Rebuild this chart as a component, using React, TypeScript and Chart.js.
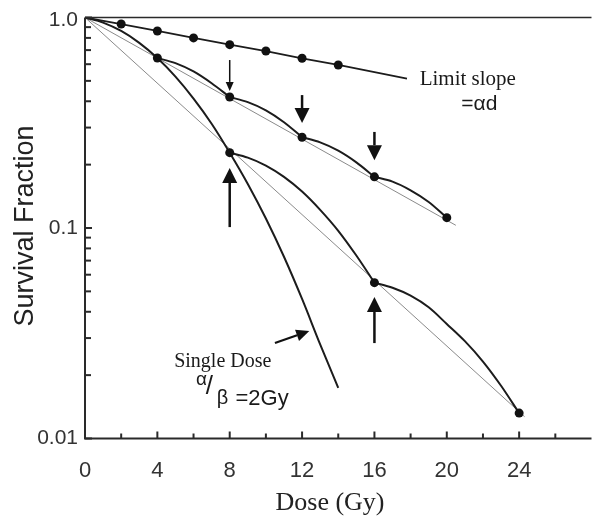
import React, { useEffect, useRef } from 'react';
import { Chart, registerables } from 'chart.js';
Chart.register(...registerables);

// ---- tick labels ----
const xTickValues = [0, 4, 8, 12, 16, 20, 24];
const xMinorTickValues = [2, 6, 10, 14, 18, 22, 26];
const yTickValues = [1, 0.1, 0.01];
const yTickLabels = ['1.0', '0.1', '0.01'];
const yMinorTickValues = [0.9, 0.8, 0.7, 0.6, 0.5, 0.4, 0.3, 0.2, 0.09, 0.08, 0.07, 0.06, 0.05, 0.04, 0.03, 0.02];

// ---- limit slope line (alpha d) ----
const limitDose = [0, 2, 4, 6, 8, 10, 12, 14, 17.8];
const limitSurv = [1.0, 0.931, 0.863, 0.8, 0.743, 0.693, 0.64, 0.595, 0.512];
const limitDotDose = [2, 4, 6, 8, 10, 12, 14];
const limitDotSurv = [0.931, 0.863, 0.8, 0.743, 0.693, 0.64, 0.595];

// ---- single dose curve ----
const singleDose = [0, 1, 2, 3, 4, 5, 6, 7, 8, 9, 10, 11, 12, 13, 14];
const singleSurv = [1.0, 0.946, 0.863, 0.758, 0.642, 0.524, 0.412, 0.313, 0.228, 0.162, 0.111, 0.073, 0.046, 0.028, 0.0174];

// ---- 4 Gy fractions ----
const frac4DotDose = [4, 8, 12, 16, 20];
const frac4DotSurv = [0.642, 0.419, 0.27, 0.175, 0.112];
const frac4CurveDose = [4, 5, 6, 7, 8, 9, 10, 11, 12, 13, 14, 15, 16, 17, 18, 19, 20];
const frac4CurveSurv = [0.642, 0.607, 0.554, 0.487, 0.419, 0.396, 0.362, 0.318, 0.27, 0.255, 0.233, 0.205, 0.175, 0.166, 0.151, 0.133, 0.112];

// ---- 8 Gy fractions ----
const frac8DotDose = [8, 16, 24];
const frac8DotSurv = [0.228, 0.055, 0.0132];
const frac8CurveDose = [8, 9, 10, 11, 12, 13, 14, 15, 16, 17, 18, 19, 20, 21, 22, 23, 24];
const frac8CurveSurv = [0.228, 0.216, 0.198, 0.175, 0.149, 0.122, 0.097, 0.074, 0.055, 0.052, 0.0477, 0.042, 0.035, 0.029, 0.0232, 0.0178, 0.0132];

// ---- effective (straight) lines ----
const eff4Dose = [0, 20.5];
const eff4Surv = [1.0, 0.103];
const eff8Dose = [0, 24.3];
const eff8Surv = [1.0, 0.0127];

const DARK = '#1c1c1c';
const GRAY = '#8a8a8a';

function pts(xs: number[], ys: number[]) {
  return xs.map((x, i) => ({ x, y: ys[i] }));
}

function segments(xs: number[], ys: number[], bounds: number[]) {
  const out: { x: number; y: number }[][] = [];
  for (let i = 0; i < bounds.length - 1; i++) {
    const a = bounds[i], b = bounds[i + 1];
    out.push(pts(xs, ys).filter((p) => p.x >= a && p.x <= b));
  }
  return out;
}

// annotations (in data coordinates)
const arrows = [
  { x1: 8, y1: 0.628, x2: 8, y2: 0.448, head: 9, headW: 8, w: 1.5 },
  { x1: 12, y1: 0.428, x2: 12, y2: 0.315, head: 15, headW: 15, w: 2.5 },
  { x1: 16, y1: 0.286, x2: 16, y2: 0.21, head: 15, headW: 15, w: 2.5 },
  { x1: 8, y1: 0.101, x2: 8, y2: 0.193, head: 15, headW: 15, w: 2.5 },
  { x1: 16, y1: 0.0284, x2: 16, y2: 0.047, head: 15, headW: 15, w: 2.5 },
  { x1: 10.5, y1: 0.0284, x2: 12.4, y2: 0.0324, head: 13, headW: 12, w: 2.2 },
];

const notes = [
  { text: 'Limit slope', x: 18.5, y: 0.4778, font: '21px "Liberation Serif"' },
  { text: '=αd', x: 20.8, y: 0.3636, font: '21px "Liberation Sans"' },
  { text: 'Single Dose', x: 4.93, y: 0.0219, font: '20px "Liberation Serif"' },
  { text: 'α', x: 6.13, y: 0.01795, font: '19px "Liberation Sans"' },
  { text: '/', x: 6.68, y: 0.01627, font: '26px "Liberation Sans"' },
  { text: 'β', x: 7.28, y: 0.0146, font: '20px "Liberation Sans"' },
  { text: '=2Gy', x: 8.32, y: 0.01442, font: '22px "Liberation Sans"' },
];

const overlay = {
  id: 'overlay',
  afterDraw(chart: any) {
    const ctx = chart.ctx;
    const xs = chart.scales.x;
    const ys = chart.scales.y;
    const { left, right, top, bottom } = chart.chartArea;
    ctx.save();
    // frame
    ctx.strokeStyle = '#2a2a2a';
    ctx.lineWidth = 2;
    ctx.beginPath();
    ctx.moveTo(left, top);
    ctx.lineTo(left, bottom);
    ctx.lineTo(right, bottom);
    ctx.stroke();
    ctx.lineWidth = 1.5;
    ctx.beginPath();
    ctx.moveTo(left, top);
    ctx.lineTo(right, top);
    ctx.stroke();
    // x ticks (inward)
    ctx.lineWidth = 2;
    xTickValues.forEach((v) => {
      const px = xs.getPixelForValue(v);
      ctx.beginPath();
      ctx.moveTo(px, bottom);
      ctx.lineTo(px, bottom - 7);
      ctx.stroke();
    });
    xMinorTickValues.forEach((v) => {
      const px = xs.getPixelForValue(v);
      ctx.beginPath();
      ctx.moveTo(px, bottom);
      ctx.lineTo(px, bottom - 5);
      ctx.stroke();
    });
    yTickValues.forEach((v) => {
      const py = ys.getPixelForValue(v);
      ctx.beginPath();
      ctx.moveTo(left, py);
      ctx.lineTo(left + 7, py);
      ctx.stroke();
    });
    yMinorTickValues.forEach((v) => {
      const py = ys.getPixelForValue(v);
      ctx.beginPath();
      ctx.moveTo(left, py);
      ctx.lineTo(left + 6, py);
      ctx.stroke();
    });
    // tick labels
    ctx.fillStyle = '#333';
    ctx.font = '22px "Liberation Sans"';
    ctx.textAlign = 'center';
    ctx.textBaseline = 'middle';
    xTickValues.forEach((v) => {
      ctx.fillText(String(v), xs.getPixelForValue(v), bottom + 32);
    });
    ctx.font = '21px "Liberation Sans"';
    ctx.textAlign = 'right';
    yTickValues.forEach((v, i) => {
      ctx.fillText(yTickLabels[i], left - 7, ys.getPixelForValue(v) + (i === 0 ? 3 : 0));
    });
    // axis titles
    ctx.fillStyle = '#222';
    ctx.font = '26px "Liberation Serif"';
    ctx.textAlign = 'center';
    ctx.fillText('Dose (Gy)', 330, 503);
    ctx.save();
    ctx.translate(26, 226);
    ctx.rotate(-Math.PI / 2);
    ctx.font = '27px "Liberation Sans"';
    ctx.fillText('Survival Fraction', 0, 0);
    ctx.restore();
    // arrows
    ctx.fillStyle = '#111';
    ctx.strokeStyle = '#111';
    arrows.forEach((a) => {
      const x1 = xs.getPixelForValue(a.x1), y1 = ys.getPixelForValue(a.y1);
      const x2 = xs.getPixelForValue(a.x2), y2 = ys.getPixelForValue(a.y2);
      const ang = Math.atan2(y2 - y1, x2 - x1);
      const bx = x2 - Math.cos(ang) * a.head, by = y2 - Math.sin(ang) * a.head;
      ctx.lineWidth = a.w;
      ctx.beginPath();
      ctx.moveTo(x1, y1);
      ctx.lineTo(bx, by);
      ctx.stroke();
      const nx = -Math.sin(ang) * a.headW / 2, ny = Math.cos(ang) * a.headW / 2;
      ctx.beginPath();
      ctx.moveTo(x2, y2);
      ctx.lineTo(bx + nx, by + ny);
      ctx.lineTo(bx - nx, by - ny);
      ctx.closePath();
      ctx.fill();
    });
    // notes
    ctx.textAlign = 'left';
    ctx.textBaseline = 'alphabetic';
    ctx.fillStyle = '#1a1a1a';
    notes.forEach((n) => {
      ctx.font = n.font;
      ctx.fillText(n.text, xs.getPixelForValue(n.x), ys.getPixelForValue(n.y));
    });
    ctx.restore();
  },
};

export default function App() {
  const ref = useRef<HTMLCanvasElement>(null);
  useEffect(() => {
    if (!ref.current) return;
    const curveStyle = {
      borderColor: DARK,
      borderWidth: 2,
      pointRadius: 0,
      cubicInterpolationMode: 'monotone' as const,
      fill: false,
      order: 2,
    };
    const grayStyle = { borderColor: GRAY, borderWidth: 1, pointRadius: 0, fill: false, order: 3 };
    const dotStyle = {
      showLine: false,
      pointRadius: 4.5,
      pointBackgroundColor: '#111',
      pointBorderColor: '#111',
      pointBorderWidth: 0,
      order: 1,
    };
    const datasets: any[] = [
      { ...grayStyle, data: pts(eff4Dose, eff4Surv) },
      { ...grayStyle, data: pts(eff8Dose, eff8Surv) },
      { ...curveStyle, borderWidth: 1.8, cubicInterpolationMode: 'default', tension: 0, data: pts(limitDose, limitSurv) },
      { ...curveStyle, data: pts(singleDose, singleSurv) },
      ...segments(frac4CurveDose, frac4CurveSurv, frac4DotDose).map((d) => ({ ...curveStyle, data: d })),
      ...segments(frac8CurveDose, frac8CurveSurv, frac8DotDose).map((d) => ({ ...curveStyle, data: d })),
      { ...dotStyle, data: pts(limitDotDose, limitDotSurv) },
      { ...dotStyle, data: pts(frac4DotDose, frac4DotSurv) },
      { ...dotStyle, data: pts(frac8DotDose, frac8DotSurv) },
    ];
    const chart = new Chart(ref.current, {
      type: 'line',
      data: { datasets },
      options: {
        responsive: false,
        animation: false,
        devicePixelRatio: 1,
        layout: { padding: { top: 17.5, right: 0, left: 0, bottom: 0 } },
        plugins: { legend: { display: false }, tooltip: { enabled: false } },
        scales: {
          x: {
            type: 'linear',
            min: 0,
            max: 28,
            grid: { display: false, drawTicks: false },
            border: { display: false },
            ticks: { display: false },
            afterFit: (s: any) => {
              s.height = 82.5;
            },
          },
          y: {
            type: 'logarithmic',
            min: 0.01,
            max: 1,
            grid: { display: false, drawTicks: false },
            border: { display: false },
            ticks: { display: false },
            afterFit: (s: any) => {
              s.width = 85;
            },
          },
        },
      },
      plugins: [overlay],
    });
    return () => chart.destroy();
  }, []);
  return (
    <div style={{ position: 'fixed', left: 0, top: 0, width: 596, height: 521, background: '#fff' }}>
      <canvas ref={ref} width={596} height={521} style={{ display: 'block' }} />
    </div>
  );
}
